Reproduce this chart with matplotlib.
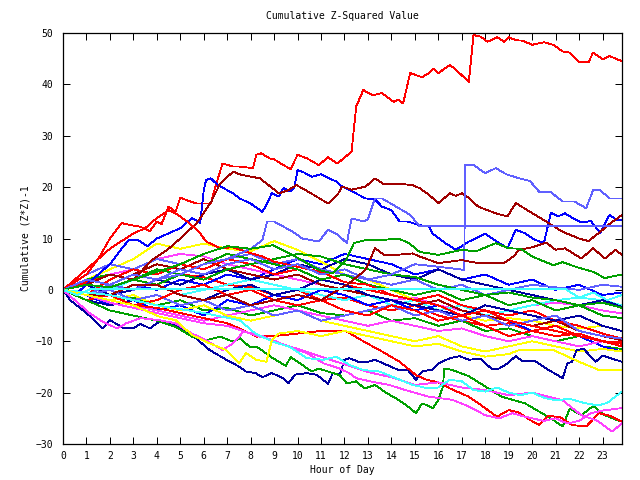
import matplotlib
matplotlib.use("Agg")
import matplotlib.pyplot as plt

# colours used by the chart
RED = "#ff0000"
GREEN = "#00a000"
BLUE = "#0000ff"
MAGENTA = "#ff40ff"
CYAN = "#40ffff"
YELLOW = "#ffff00"
DBLUE = "#0000a0"
DRED = "#a00000"
LBLUE = "#6060ff"

hours = list(range(24)) + [23.83]
hour_labels = [str(h) for h in range(24)]

# prominent lines, read as (hour, value) pairs
red_top = [(0, 0), (0.5, 1.5), (1, 3), (1.5, 6), (2, 10), (2.5, 13), (3, 12.5), (3.3, 12.3), (3.7, 11.4),
           (4.0, 13.3), (4.2, 12.8), (4.5, 16.2), (4.8, 15.2), (5.0, 18.0), (5.3, 17.4), (5.7, 16.8),
           (6.3, 16.8), (6.5, 20.1), (6.8, 24.6), (7.25, 24.0), (7.53, 24.0), (8.1, 23.7), (8.24, 26.3),
           (8.45, 26.6), (8.8, 25.6), (9.0, 25.4), (9.4, 24.3), (9.7, 23.5), (10.0, 26.3), (10.4, 25.6),
           (10.9, 24.3), (11.3, 25.8), (11.7, 24.6), (12.3, 26.9), (12.5, 35.7), (12.8, 38.9), (13.2, 37.9),
           (13.6, 38.3), (14.1, 36.6), (14.3, 37.0), (14.5, 36.3), (14.8, 42.2), (15.3, 41.4), (15.6, 42.2),
           (15.8, 43.1), (16.0, 42.2), (16.5, 43.8), (16.9, 42.2), (17.3, 40.5), (17.5, 49.6), (17.8, 49.3),
           (18.1, 48.3), (18.5, 49.2), (18.8, 48.3), (19.0, 49.2), (19.3, 48.6), (19.6, 48.5), (20.0, 47.7),
           (20.5, 48.2), (20.9, 47.7), (21.3, 46.4), (21.6, 46.2), (22.0, 44.4), (22.4, 44.3), (22.6, 46.2),
           (23.0, 44.9), (23.3, 45.5), (23.83, 44.5)]

blue_high = [(0, 0), (0.5, -1), (1, 1), (1.5, 3), (2, 5), (2.5, 8), (2.8, 9.7), (3.2, 9.7), (3.6, 8.5),
             (4, 10), (4.5, 11), (5, 12), (5.5, 14), (5.85, 13), (6.0, 19.4), (6.1, 21.4), (6.3, 21.7),
             (6.6, 20.4), (7.25, 18.8), (7.53, 17.8), (8.0, 16.8), (8.5, 15.2), (8.67, 16.5), (8.9, 18.8),
             (9.2, 18.2), (9.4, 19.8), (9.7, 19.2), (9.85, 19.8), (10.0, 23.3), (10.3, 22.8), (10.6, 22.0),
             (11.0, 22.5), (11.3, 21.8), (11.65, 21.1), (11.9, 20.1), (12.35, 19.1), (12.9, 17.8),
             (13.3, 17.6), (13.6, 16.2), (14.0, 15.5), (14.35, 13.3), (14.7, 13.3), (15.2, 12.6), (15.6, 12.3),
             (15.75, 11.0), (16.3, 9.1), (16.75, 7.8), (17.3, 9.4), (18.0, 10.9), (18.5, 9.4), (18.95, 8.1),
             (19.3, 11.7), (19.7, 11.0), (20.1, 9.8), (20.5, 9.1), (20.8, 15.0), (21.1, 14.3), (21.4, 14.9),
             (21.8, 13.8), (22.1, 13.1), (22.5, 13.4), (22.9, 11.1), (23.3, 14.6), (23.6, 13.6), (23.83, 13.6)]

dred_high = [(0, 0), (1, 1), (2, 3), (3, 2), (3.8, 5.8), (4.5, 8), (5, 10), (5.7, 13), (6.3, 17), (6.7, 20.7),
             (7.25, 23.0), (7.6, 22.4), (8.4, 21.7), (9.2, 18.8), (9.6, 19.4), (9.95, 20.4), (10.5, 19.0),
             (11.3, 16.8), (11.7, 18.5), (11.9, 20.1), (12.3, 19.5), (12.9, 20.1), (13.3, 21.7), (13.7, 20.5),
             (14.2, 20.7), (14.9, 20.4), (15.2, 19.8), (15.6, 18.5), (16.0, 16.9), (16.5, 18.8), (16.75, 18.3),
             (17.0, 18.8), (17.3, 17.9), (17.7, 16.2), (18.45, 14.9), (18.95, 14.3), (19.3, 16.9),
             (19.8, 15.5), (20.6, 13.3), (21.3, 11.3), (22.0, 10.0), (22.4, 9.5), (22.9, 11.3), (23.35, 13.0),
             (23.83, 14.6)]

red_second = [(0, 0), (1, 4), (2, 8), (3, 11), (3.5, 12), (4, 14), (4.5, 15.5), (4.8, 14.9), (5.3, 13.3),
              (5.8, 11.3), (6.1, 9.4), (6.7, 8.1), (7.25, 8.3), (7.8, 7.4), (8.5, 6.5), (9, 5.5), (10, 4.5),
              (11, 3.5), (12, 1.5), (13, 1), (14, -1), (15, -2), (16, -3), (17, -5), (18, -4), (19, -6),
              (20, -7), (21, -8), (22, -9), (23, -10), (23.83, -10.5)]

lblue_jump = [(0, 0), (1, 2), (2, 1), (3, 3), (4, 2), (5, 4), (6, 3), (7, 5), (8, 6), (9, 4), (10, 5),
              (11, 3), (12, 4), (13, 2), (14, 3), (15, 5), (16, 4.5), (17.1, 3.9), (17.15, 24.3),
              (17.5, 24.3), (18.0, 22.7), (18.45, 23.7), (18.9, 22.5), (19.45, 21.7), (19.9, 21.2),
              (20.3, 19.1), (20.8, 19.0), (21.3, 17.2), (21.8, 17.2), (22.3, 15.9), (22.6, 19.4),
              (22.9, 19.4), (23.3, 17.8), (23.83, 17.8)]

lblue_flat = [(0, 0), (1, -1), (2, 1), (3, 0), (4, 2), (5, 3), (6, 5), (7, 6), (8, 8), (8.5, 9.7),
              (8.7, 13.3), (9.0, 13.3), (9.4, 12.3), (9.8, 11.3), (10.2, 10.0), (10.9, 9.4), (11.3, 11.7),
              (11.7, 10.8), (12.1, 9.1), (12.3, 13.9), (12.85, 13.3), (13.0, 13.8), (13.3, 17.8),
              (13.6, 17.8), (14.2, 16.2), (14.8, 14.6), (15.2, 12.4), (23.83, 12.4)]

dred_mid = [(0, 0), (1, -1), (2, -1), (3, 1), (4, 1), (5, -1), (6, -2), (7, -1), (8, -3), (9, -2),
            (10, -1), (11, -2), (12.2, 1.3), (12.9, 3.9), (13.3, 8.1), (13.7, 6.8), (14.2, 6.8),
            (14.9, 7.1), (15.2, 6.5), (16.0, 5.2), (17.0, 5.8), (17.7, 5.2), (18.8, 5.2), (19.2, 6.5),
            (19.45, 7.8), (20.0, 8.3), (20.6, 9.2), (21.0, 7.8), (21.4, 8.1), (22.1, 6.1), (22.6, 8.1),
            (23.1, 6.1), (23.55, 7.8), (23.83, 6.8)]

green_up = [(0, 0), (1, 1), (2, 0.5), (3, 2), (4, 3.5), (5, 5), (6, 7), (7, 8.5), (8, 8), (8.95, 8.7),
            (9.9, 6.5), (10.9, 3.9), (11.5, 3.2), (12.07, 5.8), (12.4, 9.1), (12.9, 9.7), (13.6, 9.7),
            (14.3, 10.0), (14.75, 9.1), (15.2, 7.4), (16, 6.8), (17, 7.8), (17.6, 7.5), (18.45, 9.1),
            (19, 8.1), (19.5, 8.0), (20, 6.5), (20.9, 4.8), (21.3, 5.4), (21.85, 4.5), (22.6, 3.5),
            (23.1, 2.3), (23.83, 3.0)]

dblue_low = [(0, 0), (0.3, -2), (1, -4.5), (1.7, -7.5), (2.0, -5.9), (2.35, -6.8), (2.6, -7.5), (3.0, -7.5),
             (3.3, -6.6), (3.7, -7.5), (4.1, -6.2), (4.8, -6.8), (5.5, -8.8), (6.25, -11.7), (6.96, -13.6),
             (7.53, -15.0), (7.8, -15.9), (8.2, -16.2), (8.5, -17.0), (8.9, -16.2), (9.4, -17.2), (9.6, -18.2),
             (9.9, -16.5), (10.4, -16.2), (10.8, -16.5), (11.0, -17.2), (11.3, -18.3), (11.5, -16.2),
             (11.8, -16.5), (12.0, -13.6), (12.2, -13.3), (12.6, -14.0), (13.0, -14.0), (13.3, -13.6),
             (13.8, -14.6), (14.3, -15.6), (14.7, -15.6), (15.05, -17.5), (15.3, -15.9), (15.75, -15.5),
             (16.0, -14.3), (16.5, -13.3), (16.9, -12.9), (17.3, -13.6), (17.8, -13.4), (18.3, -15.5),
             (18.6, -15.3), (18.95, -14.3), (19.3, -12.9), (19.6, -13.9), (20.1, -13.8), (20.6, -15.3),
             (21.3, -17.2), (21.5, -14.3), (21.7, -14.0), (21.9, -11.7), (22.2, -11.5), (22.7, -14.0),
             (23.0, -12.8), (23.83, -14.0)]

green_low = [(0, 0), (1, -2), (2, -4), (3, -5), (4, -6), (4.8, -7.2), (5.5, -9.1), (6.1, -9.8), (6.7, -9.1),
             (7.25, -10.1), (7.53, -9.4), (7.96, -11.1), (8.3, -11.2), (8.95, -13.3), (9.5, -14.8),
             (9.7, -13.1), (10.2, -14.6), (10.6, -15.9), (10.9, -15.3), (11.3, -15.9), (11.8, -16.6),
             (12.1, -18.2), (12.5, -17.8), (12.85, -19.2), (13.3, -18.5), (13.8, -20.1), (14.3, -21.4),
             (14.7, -22.7), (15.05, -24.0), (15.3, -22.1), (15.6, -22.6), (15.75, -23.1), (16.0, -21.4),
             (16.2, -18.8), (16.25, -15.3), (16.6, -15.6), (17.3, -16.8), (18.0, -18.8), (18.7, -20.8),
             (19.7, -22.1), (20.3, -23.7), (20.9, -25.3), (21.3, -26.6), (21.6, -23.1), (22.1, -24.4),
             (22.6, -22.6), (23.1, -24.4), (23.83, -25.7)]

red_low = [(0, 0), (1, -1), (2, -2), (3, -3), (4, -3.5), (5, -4.5), (6, -5.5), (7, -6.5), (7.53, -7.5),
           (8.24, -9.1), (9, -9), (10, -8.5), (11, -8), (12.1, -8.1), (12.8, -10), (13.6, -12.0),
           (14.35, -14.0), (15.05, -16.6), (15.5, -17.5), (16.0, -18), (16.5, -19.2), (17.3, -20.8),
           (17.9, -22.7), (18.5, -24.7), (19.0, -23.4), (19.4, -23.8), (19.9, -25.3), (20.3, -26.3),
           (20.7, -24.5), (21.2, -24.8), (21.7, -26.3), (22.3, -26.6), (22.85, -24.0), (23.3, -24.5),
           (23.83, -25.7)]

magenta_low1 = [(0, 0), (1, -1), (2, -2.5), (3, -3.5), (4, -4.5), (5, -5.5), (6, -6.5), (7, -7), (7.53, -7.8),
                (8.4, -9.1), (8.95, -9.8), (9.66, -11.1), (10.4, -12.3), (11.1, -14.3), (11.8, -15.3),
                (12.2, -16.2), (12.5, -17.2), (13.2, -17.9), (13.9, -18.5), (14.6, -19.5), (15.05, -20.1),
                (15.6, -20.8), (16.6, -21.4), (17.3, -22.7), (18.0, -24.4), (18.6, -25.0), (19.15, -24.0),
                (19.7, -24.7), (20.5, -25.5), (21.0, -25.0), (21.5, -26.0), (22.0, -25.5), (22.5, -24.0),
                (23.0, -23.5), (23.83, -23.0)]

magenta_low2 = [(0, 0), (0.5, -2), (1.15, -4.6), (1.7, -6.2), (2.3, -7.5), (2.7, -6.5), (3.3, -5.5),
                (4.1, -5.9), (4.8, -6.5), (5.5, -8.5), (6.1, -9.8), (6.8, -11.7), (7.25, -10.4), (7.7, -8.1),
                (8.5, -9), (9, -10), (10, -11.5), (11, -13), (12, -14.5), (13, -16), (14, -17), (15, -18.5),
                (16, -18), (17, -19), (18, -19.5), (19, -20.5), (20, -20), (21.3, -21.5), (22.1, -24.4),
                (22.8, -25.5), (23.4, -27.6), (23.83, -26.0)]

cyan_low = [(0, 0), (2, -1), (4, -3), (6, -4.5), (7.53, -5.9), (8.2, -8.5), (8.95, -10.1), (9.66, -11.1),
            (10.4, -13.3), (11.1, -13.6), (11.65, -13.0), (12.2, -14.6), (12.8, -15.6), (13.5, -15.9),
            (14.2, -17.2), (14.9, -18.5), (15.6, -19.2), (16.0, -19.0), (16.5, -17.5), (17.0, -17.8),
            (17.5, -19.5), (18, -19.8), (18.5, -19.0), (19, -20.0), (19.5, -20.5), (20, -20), (20.5, -21),
            (21, -21.5), (21.6, -21.2), (22.2, -22), (22.8, -22.5), (23.2, -22.0), (23.83, -19.8)]

yellow_low = [(0, 0), (1, -1), (2, -2), (3, -3), (4.1, -5.2), (4.8, -5.9), (5.5, -8.8), (6.25, -10.4),
              (6.96, -11.7), (7.5, -14.3), (7.8, -12.3), (8.24, -13.6), (8.67, -14.0), (8.9, -9.8),
              (9.2, -8.5), (10, -8), (11, -9), (12, -8), (13, -9), (14, -10), (15, -11), (16, -10.5),
              (17, -12), (18, -13), (19, -12.5), (19.45, -11.7), (20.9, -11.7), (22, -14), (22.85, -15.6),
              (23.83, -15.6)]

cyan_flat = [(0, 0), (0.6, -1), (1.2, 0.2), (21.4, 0.2), (22.0, -1.5), (22.6, -0.5), (23.2, -2), (23.83, -1.0)]

# bundle of middle lines, one value per hour (0..23 and 23.83)
b_red1 = [0, 1.5, 3, 2, 4, 3, 2.5, 1, 0.5, -1, 0, -2, -1.5, -3, -4, -3, -5, -6, -7, -6.5, -8, -9, -8.5, -10, -10.2]
b_red2 = [0, -1, 2, 4, 3, 5, 4, 6, 5, 3, 4, 2, 1, 0, -1, -2, -1, -3, -4, -5, -4, -6, -7, -8.5, -9.5]
b_red3 = [0, -2, -1, -3, -2, 0, 1, -1, 0, -2, -3, -2, -4, -5, -3, -4, -6, -5, -7, -9, -8, -7, -9, -10, -11]
b_green1 = [0, -1, -2, -1.5, -3, -2, -4, -3.5, -5, -4, -3, -4.5, -5, -4, -6, -5.5, -7, -6, -8, -7.5, -9, -10, -9, -11, -11.5]
b_green2 = [0, 1, 0.5, 2, 1, 3, 2, 4, 5, 6, 7, 6.5, 5, 4, 3, 2.5, 1, 0, -1, -0.5, -1.5, -2, -3, -2.5, -3.5]
b_green3 = [0, 2, 3, 2, 4, 3, 5, 7, 6, 5, 4, 2, 3, 1, 0, -1, 0, -2, -1, -3, -2, -4, -3, -5, -5.5]
b_blue1 = [0, -2, -1, 1, 0, 2, 1, 3, 2, 4, 6, 5, 7, 6, 5, 3, 4, 2, 3, 1, 2, 0, 1, -1, -0.5]
b_blue2 = [0, -1, -3, -2, -4, -3, -5, -2, -3, -1, -2, 0, -1, -3, -2, -4, -3, -5, -4, -6, -8, -7, -9, -11, -12]
b_mag1 = [0, 1, 3, 4, 6, 7, 6.5, 5, 4, 3, 2, 1, 0, -1, -2, -1.5, -3, -4, -5, -4, -3, -2.5, -3, -4, -4.6]
b_mag2 = [0, -1, -2, -3, -4, -5, -6, -5, -4, -3, -4, -5, -6, -7, -6, -7, -8, -7.5, -9, -10, -9, -10, -11, -10, -10.5]
b_cyan1 = [0, 1, 0, 2, 1, -1, 0, 1, 2, 1, 0, -1, -2, -1, -3, -2, -4, -3, -5, -4, -3, -2, -1.5, -2, -3]
b_yellow1 = [0, 2, 4, 6, 9, 8, 9, 8, 7.5, 9.5, 7.8, 5.5, 3, 2, 0, -2, -3, -5, -6, -5.5, -6, -7, -7.5, -7, -8]
b_yellow2 = [0, -1, -2, -1, -3, -4, -3, -5, -6, -5, -4, -6, -7, -8, -9, -10, -9, -11, -12, -11, -10, -11, -12, -11.5, -12]
b_dblue1 = [0, 1, -1, 0, 2, 1, 3, 4, 2, 3, 5, 4, 6, 5, 3, 2, 4, 2, 1, 0, -1, -2, -3, -2, -3.3]
b_dblue2 = [0, -2, -3, -2, -1, -3, -2, 0, 1, -1, 0, 2, 1, -1, -2, -3, -4, -5, -3, -4, -5, -6, -5, -7, -8]
b_dred1 = [0, 2, 1, 3, 5, 4, 6, 4, 3, 2, 3, 1, 0, -1, -2, -3, -2, -4, -5, -6, -7, -6, -8, -9, -9.8]
b_lblue1 = [0, 3, 5, 4, 6, 5, 4, 6, 7, 5, 6, 4, 3, 2, 1, 2, 0, 1, -1, 0, 1, 0.5, 0, 1, 0.6]
b_lblue2 = [0, -1, 0, -2, -1, -3, -2, -4, -3, -5, -4, -6, -5, -4, -3, -5, -4, -6, -5, -7, -6, -5, -8, -9, -9.5]

pair_lines = [
    (red_top, RED), (blue_high, BLUE), (dred_high, DRED), (red_second, RED), (lblue_jump, LBLUE),
    (lblue_flat, LBLUE), (dred_mid, DRED), (green_up, GREEN), (dblue_low, DBLUE), (green_low, GREEN),
    (red_low, RED), (magenta_low1, MAGENTA), (magenta_low2, MAGENTA), (cyan_low, CYAN),
    (yellow_low, YELLOW), (cyan_flat, CYAN),
]
hourly_lines = [
    (b_red1, RED), (b_green1, GREEN), (b_blue1, BLUE), (b_mag1, MAGENTA), (b_cyan1, CYAN),
    (b_yellow1, YELLOW), (b_dblue1, DBLUE), (b_dred1, DRED), (b_lblue1, LBLUE),
    (b_red2, RED), (b_green2, GREEN), (b_blue2, BLUE), (b_mag2, MAGENTA), (b_yellow2, YELLOW),
    (b_dblue2, DBLUE), (b_lblue2, LBLUE), (b_red3, RED), (b_green3, GREEN),
]

plt.rcParams["font.family"] = "DejaVu Sans Mono"
fig = plt.figure(figsize=(6.4, 4.8), dpi=100)
ax = fig.add_axes([63 / 640, 36 / 480, 559 / 640, 411 / 480])

for vals, col in hourly_lines:
    ax.plot(hours, vals, color=col, linewidth=0.6, antialiased=False)
for pts, col in pair_lines:
    xs = [p[0] for p in pts]
    ys = [p[1] for p in pts]
    ax.plot(xs, ys, color=col, linewidth=0.6, antialiased=False)

ax.set_xlim(0, 23.83)
ax.set_ylim(-30, 50)
ax.set_xticks(range(24))
ax.set_xticklabels(hour_labels)
ax.set_yticks(range(-30, 51, 10))
ax.tick_params(direction="in", length=5, width=0.72, top=True, right=True, labelsize=7, colors="black")
ax.tick_params(axis="x", pad=5)
ax.tick_params(axis="y", pad=7)
for s in ax.spines.values():
    s.set_linewidth(0.9)
ax.set_title("Cumulative Z-Squared Value", fontsize=7, pad=10)
ax.set_xlabel("Hour of Day", fontsize=7, labelpad=3)
ax.set_ylabel("Cumulative (Z*Z)-1", fontsize=7, labelpad=4)

fig.savefig("out.png", dpi=100)
